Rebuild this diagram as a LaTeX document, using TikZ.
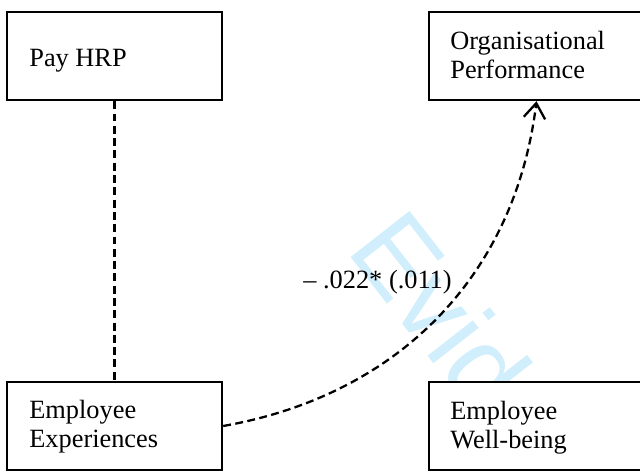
\documentclass[tikz,border=0pt]{standalone}
\usepackage{fontspec}
\setmainfont{Liberation Serif}
\newfontfamily\markfont{Liberation Sans}
\usetikzlibrary{arrows.meta}
\definecolor{markblue}{RGB}{208,238,251}
\tikzset{
  hrbox/.style={draw, line width=1.4pt, fill=white, inner sep=0pt,
    minimum width=4.3cm, minimum height=1.76cm},
  boxtext/.style={anchor=base west, align=left, inner sep=0pt,
    font=\fontsize{15pt}{16.1pt}\selectfont},
  link/.style={line width=1.3pt, dash pattern=on 4.5pt off 2.5pt},
}

\begin{document}
\begin{tikzpicture}[x=0.02cm, y=0.02cm]
        \useasboundingbox (0,0) rectangle (640,471);
        % watermark
        \node[anchor=base west, rotate=-52, inner sep=0pt, text=markblue,
          font=\markfont\fontsize{62pt}{62pt}\selectfont] (mark) at (345,221) {Evid};
        % boxes
        \node[hrbox] (pay) at (114.5,415) {};
        \node[hrbox] (op) at (536.5,415) {};
        \node[hrbox] (ee) at (114.5,45) {};
        \node[hrbox] (ew) at (536.5,45) {};
        % box texts (base = last line)
        \node[boxtext] (pay-t) at (29,404) {Pay HRP};
        \node[boxtext] (op-t) at (450,393) {Organisational\\Performance};
        \node[boxtext] (ee-t) at (29,24) {Employee\\Experiences};
        \node[boxtext] (ew-t) at (450,23) {Employee\\Well-being};
        % links
        \draw[link] (pay) -- (ee);
        \draw[link, -{Straight Barb[length=0.3cm, width=0.43cm]}]
          (ee.east) to[out=10, in=-97] (op.south);
        \node[boxtext] (coef) at (303,183) {– .022* (.011)};
\end{tikzpicture}
\end{document}
